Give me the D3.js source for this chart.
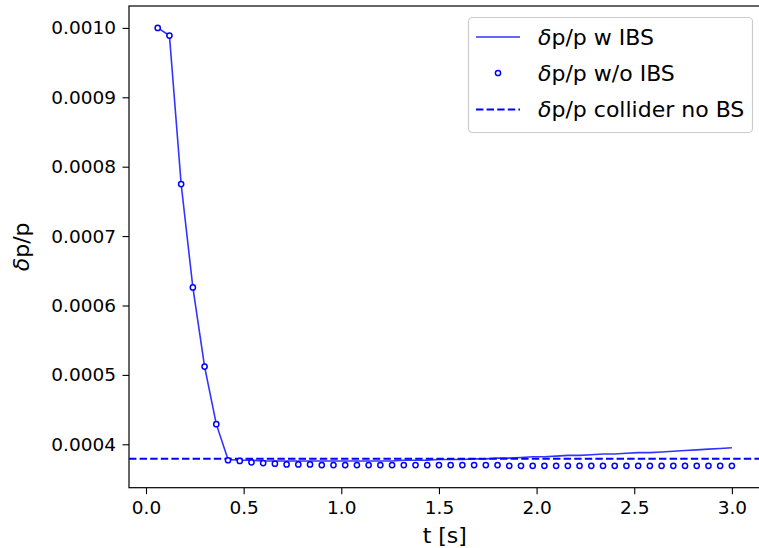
<!DOCTYPE html>
<html>
<head>
<meta charset="utf-8">
<script src="https://cdn.jsdelivr.net/npm/d3@7/dist/d3.min.js"></script>
<style>
  body { margin: 0; background: #fff; }
  text { font-family: "DejaVu Sans", sans-serif; fill: #000; }
</style>
</head>
<body>
<div id="chart"></div>
<script>
// Time grid (s)
var times = [0.06, 0.12, 0.18, 0.24, 0.30, 0.36, 0.42, 0.48, 0.54, 0.60,
             0.66, 0.72, 0.78, 0.84, 0.90, 0.96, 1.02, 1.08, 1.14, 1.20,
             1.26, 1.32, 1.38, 1.44, 1.50, 1.56, 1.62, 1.68, 1.74, 1.80,
             1.86, 1.92, 1.98, 2.04, 2.10, 2.16, 2.22, 2.28, 2.34, 2.40,
             2.46, 2.52, 2.58, 2.64, 2.70, 2.76, 2.82, 2.88, 2.94, 3.00];

// dp/p with IBS (solid line)
var withIBS = [0.001000, 0.000989, 0.000775, 0.000626, 0.000512, 0.000429, 0.000378, 0.000377, 0.000377, 0.000376,
               0.000376, 0.000376, 0.000376, 0.000376, 0.000376, 0.000376, 0.000376, 0.000376, 0.000376, 0.000376,
               0.000376, 0.000377, 0.000377, 0.000377, 0.000378, 0.000378, 0.000378, 0.000379, 0.000379, 0.000380,
               0.000380, 0.000381, 0.000382, 0.000382, 0.000383, 0.000384, 0.000384, 0.000385, 0.000386, 0.000386,
               0.000387, 0.000388, 0.000388, 0.000389, 0.000390, 0.000391, 0.000392, 0.000393, 0.000394, 0.000395];

// dp/p without IBS (open circles)
var withoutIBS = [0.001000, 0.000989, 0.000775, 0.000626, 0.000512, 0.000429, 0.000377, 0.000376, 0.000374, 0.000373,
                  0.000372, 0.000371, 0.000371, 0.000371, 0.000370, 0.000370, 0.000370, 0.000370, 0.000370, 0.000370,
                  0.000370, 0.000370, 0.000370, 0.000370, 0.000370, 0.000370, 0.000370, 0.000370, 0.000370, 0.000370,
                  0.000369, 0.000369, 0.000369, 0.000369, 0.000369, 0.000369, 0.000369, 0.000369, 0.000369, 0.000369,
                  0.000369, 0.000369, 0.000369, 0.000369, 0.000369, 0.000369, 0.000369, 0.000369, 0.000369, 0.000369];

// collider reference level, no beamstrahlung
var colliderNoBS = 0.000379;

var xTicks = [0.0, 0.5, 1.0, 1.5, 2.0, 2.5, 3.0];
var yTicks = [0.0004, 0.0005, 0.0006, 0.0007, 0.0008, 0.0009, 0.0010];

var legendLabels = ["w IBS", "w/o IBS", "collider no BS"];

var W = 759, H = 548;
var plot = {left: 129, right: 760.6, top: 6, bottom: 487.7};
var blue = "#0000ff";
var tickFont = "18.5px", labelFont = "22px";

var svg = d3.select("#chart").append("svg")
    .attr("width", W)
    .attr("height", H);

// matplotlib-style 5% margins around the data
function padded(ext) {
    var d = (ext[1] - ext[0]) * 0.05;
    return [ext[0] - d, ext[1] + d];
}

var x = d3.scaleLinear()
    .domain(padded(d3.extent(times)))
    .range([plot.left, plot.right]);

var y = d3.scaleLinear()
    .domain(padded(d3.extent(withIBS.concat(withoutIBS))))
    .range([plot.bottom, plot.top]);

// axes
var xAxis = svg.append("g")
    .attr("transform", "translate(0," + plot.bottom + ")")
    .call(d3.axisBottom(x).tickValues(xTicks).tickFormat(d3.format(".1f")).tickSize(6.5).tickPadding(6.5));

var yAxis = svg.append("g")
    .attr("transform", "translate(" + plot.left + ",0)")
    .call(d3.axisLeft(y).tickValues(yTicks).tickFormat(d3.format(".4f")).tickSize(6.5).tickPadding(6.5));

[xAxis, yAxis].forEach(function(g) {
    g.select(".domain").remove();
    g.selectAll(".tick line").attr("stroke", "#000").attr("stroke-width", 1.1);
    g.selectAll(".tick text")
        .style("font-family", "DejaVu Sans")
        .style("font-size", tickFont)
        .attr("fill", "#000");
});

// frame
svg.append("rect")
    .attr("x", plot.left)
    .attr("y", plot.top)
    .attr("width", plot.right - plot.left)
    .attr("height", plot.bottom - plot.top)
    .attr("fill", "none")
    .attr("stroke", "#000")
    .attr("stroke-width", 1.2);

// reference dashed line
svg.append("line")
    .attr("x1", plot.left)
    .attr("x2", plot.right)
    .attr("y1", y(colliderNoBS))
    .attr("y2", y(colliderNoBS))
    .attr("stroke", blue)
    .attr("stroke-width", 2)
    .attr("stroke-dasharray", "7.4,3.2");

// with IBS line
var line = d3.line()
    .x(function(d, i) { return x(times[i]); })
    .y(function(d) { return y(d); });

svg.append("path")
    .datum(withIBS)
    .attr("d", line)
    .attr("fill", "none")
    .attr("stroke", blue)
    .attr("stroke-opacity", 0.8)
    .attr("stroke-width", 1.6);

// without IBS circles
svg.append("g").selectAll("circle")
    .data(withoutIBS)
    .enter().append("circle")
    .attr("cx", function(d, i) { return x(times[i]); })
    .attr("cy", function(d) { return y(d); })
    .attr("r", 2.6)
    .attr("fill", "white")
    .attr("stroke", blue)
    .attr("stroke-width", 1.5);

// axis labels
svg.append("text")
    .attr("x", (plot.left + plot.right) / 2)
    .attr("y", 543)
    .attr("text-anchor", "middle")
    .style("font-size", labelFont)
    .text("t [s]");

var yl = svg.append("text")
    .attr("transform", "translate(29," + (plot.top + plot.bottom) / 2 + ") rotate(-90)")
    .attr("text-anchor", "middle")
    .style("font-size", labelFont);
yl.append("tspan").style("font-style", "italic").text("δ");
yl.append("tspan").text("p/p");

// legend
var leg = svg.append("g");
leg.append("rect")
    .attr("x", 468.5).attr("y", 17.5)
    .attr("width", 284).attr("height", 115)
    .attr("rx", 4)
    .attr("fill", "white")
    .attr("fill-opacity", 0.8)
    .attr("stroke", "#cccccc")
    .attr("stroke-width", 1.2);

var rowY = [37, 73, 109.5];
leg.append("line")
    .attr("x1", 476).attr("x2", 520)
    .attr("y1", rowY[0]).attr("y2", rowY[0])
    .attr("stroke", blue).attr("stroke-opacity", 0.8).attr("stroke-width", 1.6);
leg.append("circle")
    .attr("cx", 498).attr("cy", rowY[1]).attr("r", 2.6)
    .attr("fill", "white").attr("stroke", blue).attr("stroke-width", 1.5);
leg.append("line")
    .attr("x1", 476).attr("x2", 520)
    .attr("y1", rowY[2]).attr("y2", rowY[2])
    .attr("stroke", blue).attr("stroke-width", 2).attr("stroke-dasharray", "7.4,3.2");

legendLabels.forEach(function(lbl, i) {
    var t = leg.append("text")
        .attr("x", 538)
        .attr("y", rowY[i] + 7.6)
        .style("font-size", labelFont);
    t.append("tspan").style("font-style", "italic").text("δ");
    t.append("tspan").text("p/p " + lbl);
});
</script>
</body>
</html>
